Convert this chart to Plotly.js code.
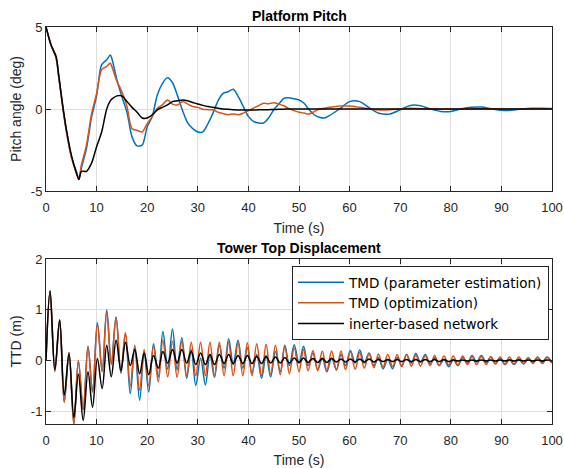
<!DOCTYPE html>
<html>
<head>
<meta charset="utf-8">
<script src="https://cdn.plot.ly/plotly-3.0.1.min.js"></script>
<style>html,body{margin:0;padding:0;background:#fff;}#plot{width:564px;height:468px;}</style>
</head>
<body>
<div id="plot"></div>
<script>
// ---------- Platform Pitch (deg) ----------
const tPitch = [0,1,2,2.5,3,3.5,4,5,6,6.5,7,8,9,10,11,12,12.7,13,14,15,16,17,18,19,20,21,22,23,24,25,26,27,28,29,30,31,32,33,34,35,36,37,38,39,40,41,42,43,44,45,46,47,48,49,50,51,52,53,54,55,56,58,60,62,64,66,68,70,72,74,76,78,80,82,84,86,88,90,92,94,96,98,100];
const pitchParam = [5,3.9,3.1,2.0,0.85,-0.3,-1.3,-2.9,-3.8,-4.3,-3.6,-2.4,-0.5,0.8,2.7,3.0,3.3,3.1,1.8,0.75,-0.2,-1.7,-2.25,-2.2,-1.1,-0.45,0.85,1.55,1.9,1.6,0.8,-0.1,-0.85,-1.2,-1.4,-1.4,-0.9,-0.25,0.5,0.95,1.05,1.2,0.75,0.15,-0.45,-0.75,-0.85,-0.85,-0.55,-0.05,0.3,0.65,0.68,0.62,0.55,0.35,-0.05,-0.35,-0.5,-0.55,-0.4,0.0,0.45,0.45,0.05,-0.28,-0.3,-0.05,0.22,0.2,0.0,-0.15,-0.15,0.0,0.1,0.12,0.02,-0.08,-0.08,0.0,0.05,0.05,0.03];
const pitchOpt = [5,3.9,3.1,2.0,0.85,-0.3,-1.3,-2.9,-3.9,-4.2,-3.4,-2.2,-0.3,0.95,2.4,2.6,2.8,2.6,1.7,1.05,0.15,-1.2,-1.3,-1.4,-0.9,-0.45,0.05,0.25,0.55,0.3,0.25,0.45,0.3,0.15,0.1,-0.02,-0.04,-0.05,-0.2,-0.28,-0.35,-0.3,-0.35,-0.25,-0.1,0.05,0.2,0.35,0.32,0.38,0.3,0.2,0.02,-0.1,-0.2,-0.25,-0.3,-0.16,0.0,0.05,0.1,0.18,0.18,0.1,0.0,-0.06,-0.05,0.0,0.04,0.02,0.0,-0.02,-0.02,0.0,0.0,0.02,0.0,0.0,0.0,0.0,0.0,0.0,0.0];
const pitchInerter = [5,3.9,3.2,2.1,0.9,-0.2,-1.2,-2.8,-3.9,-4.3,-3.8,-3.8,-3.3,-2.3,-1.4,0.0,0.5,0.6,0.8,0.8,0.45,0.1,-0.2,-0.55,-0.55,-0.35,-0.05,0.1,0.25,0.45,0.5,0.55,0.5,0.4,0.3,0.22,0.15,0.1,0.05,0.0,-0.02,-0.04,-0.06,-0.06,-0.06,-0.06,-0.05,-0.05,-0.04,-0.03,-0.02,-0.01,0,0,0,0,0,0,0,0,0,0,0,0,0,0,0,0,0,0,0,0,0,0,0,0,0,0,0,0,0,0,0];

// ---------- Tower Top Displacement (m): values at successive peaks/troughs ----------
const tTTD = [0,0.8,1.75,2.7,3.6,4.55,5.5,6.4,7.35,8.3,9.2,10.15,11.1,12.0,12.9,13.85,14.8,15.7,16.65,17.55,18.5,19.4,20.3,21.25,22.2,23.1,24.05,25.0,25.9,26.85,27.8,28.7,29.6,30.55,31.5,32.4,33.3,34.25,35.2,36.1,37.0,37.95,38.9,39.8,40.7,41.65,42.6,43.5,44.4,45.35,46.3,47.2,48.1,49.05,50.0,50.9,51.8,52.75,53.7,54.6,55.5,56.45,57.4,58.3,59.2,60.15,61.1,62.0,62.9,63.85,64.8,65.7,66.6,67.55,68.5,69.4,70.3,71.25,72.2,73.1,74.0,74.95,75.9,76.8,77.7,78.65,79.6,80.5,81.4,82.35,83.3,84.2,85.1,86.05,87.0,87.9,88.8,89.75,90.7,91.6,92.5,93.45,94.4,95.3,96.2,97.15,98.1,99.0,99.95];
const ttdParam = [0,1.37,-0.2,0.8,-0.82,0.16,-1.25,-0.02,-0.97,0.27,-0.62,0.75,-0.2,1.0,-0.05,0.86,-0.25,0.52,-0.65,0.25,-0.78,0.18,-0.62,0.33,-0.32,0.57,-0.17,0.62,-0.18,0.45,-0.35,0.22,-0.49,0.05,-0.48,0.12,-0.33,0.3,-0.15,0.43,-0.08,0.4,-0.15,0.25,-0.25,0.12,-0.35,0.1,-0.32,0.18,-0.22,0.3,-0.1,0.31,-0.05,0.28,-0.1,0.15,-0.18,0.05,-0.22,0.05,-0.18,0.12,-0.1,0.2,-0.05,0.21,-0.05,0.15,-0.1,0.06,-0.16,0.02,-0.16,0.06,-0.1,0.12,-0.05,0.14,-0.04,0.12,-0.06,0.06,-0.1,0.02,-0.12,0.02,-0.1,0.06,-0.05,0.1,-0.03,0.1,-0.04,0.07,-0.06,0.04,-0.08,0.02,-0.08,0.03,-0.07,0.05,-0.04,0.07,-0.03,0.07,-0.03];
const ttdOpt = [0,1.37,-0.22,0.8,-0.82,0.16,-1.25,0.0,-0.95,0.28,-0.62,0.72,-0.22,0.95,-0.08,0.85,-0.22,0.55,-0.5,0.3,-0.58,0.22,-0.5,0.28,-0.42,0.4,-0.32,0.38,-0.33,0.38,-0.3,0.36,-0.3,0.36,-0.3,0.36,-0.3,0.36,-0.3,0.36,-0.3,0.35,-0.3,0.35,-0.3,0.33,-0.3,0.32,-0.28,0.3,-0.28,0.28,-0.26,0.25,-0.22,0.22,-0.2,0.2,-0.2,0.19,-0.2,0.19,-0.19,0.19,-0.18,0.18,-0.17,0.16,-0.15,0.14,-0.14,0.13,-0.13,0.12,-0.12,0.12,-0.12,0.12,-0.11,0.11,-0.11,0.1,-0.1,0.1,-0.1,0.09,-0.09,0.09,-0.09,0.09,-0.08,0.08,-0.08,0.08,-0.08,0.08,-0.07,0.07,-0.07,0.07,-0.07,0.07,-0.06,0.06,-0.06,0.06,-0.06,0.06,-0.05];
const ttdInerter = [0,1.37,-0.18,0.8,-0.68,0.13,-1.12,-0.27,-1.18,-0.22,-0.92,0.04,-0.55,0.3,-0.32,0.4,-0.2,0.36,-0.1,0.22,-0.26,0.15,-0.28,0.1,-0.15,0.18,-0.05,0.22,-0.05,0.22,-0.05,0.18,-0.08,0.15,-0.08,0.12,-0.08,0.12,-0.06,0.12,-0.06,0.1,-0.06,0.1,-0.06,0.08,-0.06,0.08,-0.05,0.07,-0.05,0.06,-0.05,0.05,-0.04,0.05,-0.04,0.04,-0.04,0.04,-0.04,0.04,-0.03,0.03,-0.03,0.03,-0.03,0.03,-0.03,0.03,-0.03,0.02,-0.02,0.02,-0.02,0.02,-0.02,0.02,-0.02,0.02,-0.02,0.02,-0.02,0.02,-0.02,0.02,-0.02,0.01,-0.01,0.01,-0.01,0.01,-0.01,0.01,-0.01,0.01,-0.01,0.01,-0.01,0.01,-0.01,0.01,-0.01,0.01,-0.01,0.01,-0.01,0.01,-0.01];

const seriesNames = ['TMD (parameter estimation)','TMD (optimization)','inerter-based network'];
const seriesColors = ['#0072BD','#D95319','#000000'];
const xTicks = [0,10,20,30,40,50,60,70,80,90,100];
const pitchTicks = [-5,0,5];
const ttdTicks = [-1,0,1,2];

const FONT = 'Liberation Sans, Arial, Helvetica, sans-serif';
const INK = '#262626';

const pitchSeries = [pitchParam, pitchOpt, pitchInerter];
const ttdSeries = [ttdParam, ttdOpt, ttdInerter];
const traces = [];
pitchSeries.forEach((ys,i)=>traces.push({
  x: tPitch, y: ys, type:'scatter', mode:'lines', xaxis:'x', yaxis:'y',
  line:{color:seriesColors[i], width:1.5, shape:'spline', smoothing:0.8},
  showlegend:false, name:seriesNames[i], hoverinfo:'skip'
}));
ttdSeries.forEach((ys,i)=>traces.push({
  x: tTTD, y: ys, type:'scatter', mode:'lines', xaxis:'x2', yaxis:'y2',
  line:{color:seriesColors[i], width:1.5, shape:'spline', smoothing:1},
  showlegend:true, name:seriesNames[i], hoverinfo:'skip'
}));

function xAxis(anchor){
  return {anchor:anchor, domain:[0,1], range:[0,100], tickvals:xTicks, ticktext:xTicks.map(String),
    ticks:'inside', ticklen:5, tickcolor:INK, showline:true, linecolor:INK, linewidth:1, mirror:'ticks',
    showgrid:true, gridcolor:'#dedede', gridwidth:1, zeroline:false, ticklabelstandoff:4,
    tickfont:{family:FONT,size:13,color:INK},
    title:{text:'Time (s)', font:{family:FONT,size:14,color:INK}, standoff:9}};
}
function yAxis(anchor, dom, rng, tv, ttl){
  return {anchor:anchor, domain:dom, range:rng, tickvals:tv, ticktext:tv.map(String),
    ticks:'inside', ticklen:5, tickcolor:INK, showline:true, linecolor:INK, linewidth:1, mirror:'ticks',
    showgrid:true, gridcolor:'#dedede', gridwidth:1, zeroline:false,
    tickfont:{family:FONT,size:13,color:INK},
    title:{text:ttl, font:{family:FONT,size:14,color:INK}, standoff:5}};
}

const layout = {
  width:564, height:468,
  margin:{l:46, r:12, t:27, b:44, pad:0},
  paper_bgcolor:'#ffffff', plot_bgcolor:'#ffffff',
  font:{family:FONT, color:INK},
  xaxis: xAxis('y'),
  yaxis: yAxis('x', [0.5869,1], [-5,5], pitchTicks, 'Pitch angle (deg)'),
  xaxis2: xAxis('y2'),
  yaxis2: yAxis('x2', [0,0.4156], [-1.25,2], ttdTicks, 'TTD (m)'),
  legend:{x:(292-46)/506, y:(424-266)/397, xanchor:'left', yanchor:'top', xref:'paper', yref:'paper',
    bgcolor:'#ffffff', bordercolor:INK, borderwidth:1,
    font:{family:'DejaVu Sans, Liberation Sans, sans-serif', size:13.5, color:'#000000'}, itemwidth:46, tracegroupgap:0},
  annotations:[
    {text:'<b>Platform Pitch</b>', xref:'paper', yref:'paper', x:0.5, y:1, yanchor:'bottom', yshift:1,
     showarrow:false, font:{family:FONT,size:14,color:'#000000'}},
    {text:'<b>Tower Top Displacement</b>', xref:'paper', yref:'paper', x:0.5, y:0.4156, yanchor:'bottom', yshift:1,
     showarrow:false, font:{family:FONT,size:14,color:'#000000'}}
  ]
};

Plotly.newPlot('plot', traces, layout, {displayModeBar:false, staticPlot:true});
</script>
</body>
</html>
